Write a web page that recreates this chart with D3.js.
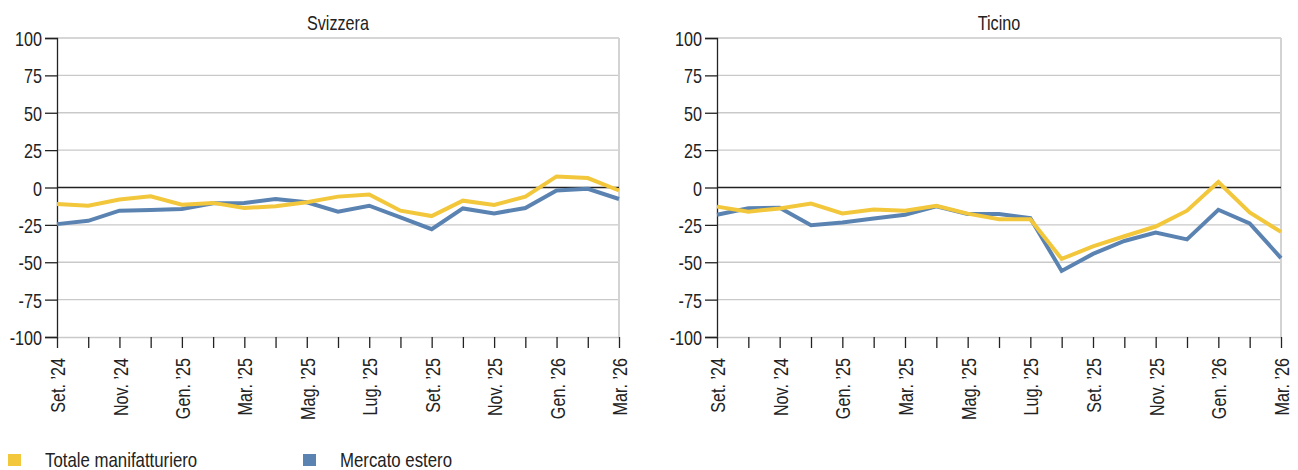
<!DOCTYPE html>
<html><head><meta charset="utf-8">
<script src="https://cdn.jsdelivr.net/npm/d3@7"></script>
<style>
html,body{margin:0;padding:0;background:#fff;}
svg text{font-family:"Liberation Sans",Arial,sans-serif;fill:#222;}
</style></head>
<body><svg id="c" width="1298" height="470"></svg>
<script>
const months = ["Set. ’24","Ott. ’24","Nov. ’24","Dic. ’24","Gen. ’25","Feb. ’25","Mar. ’25","Apr. ’25","Mag. ’25","Giu. ’25","Lug. ’25","Ago. ’25","Set. ’25","Ott. ’25","Nov. ’25","Dic. ’25","Gen. ’26","Feb. ’26","Mar. ’26"];
const panelTitles = ["Svizzera","Ticino"];
const seriesNames = ["Totale manifatturiero","Mercato estero"];
const seriesColors = ["#f2c73c","#5b83b2"];
const yTicks = [100,75,50,25,0,-25,-50,-75,-100];
// Svizzera
const chTotale = [-11,-12.2,-8,-5.9,-11.5,-10.3,-13.7,-12.6,-9.9,-6.1,-4.7,-15.5,-19.1,-8.8,-11.7,-6.1,7.4,6.3,-2];
const chEstero = [-24.5,-22.3,-15.5,-15,-14.4,-10.6,-10.3,-7.7,-9.9,-16.2,-12.2,-20,-27.9,-14,-17.3,-13.7,-2,-0.9,-7.7];
// Ticino
const tiTotale = [-12.8,-16.2,-14,-10.8,-17.3,-14.7,-15.6,-12.2,-17.5,-21.2,-21.2,-47.8,-39.4,-32.6,-26.1,-15.5,3.6,-16.7,-29.7];
const tiEstero = [-18.2,-13.9,-13.5,-25.3,-23.4,-20.7,-18.2,-12.6,-17.8,-17.8,-20.5,-55.8,-44.4,-35.8,-30.2,-34.7,-14.9,-24,-47.2];

const panels = [
  {title: panelTitles[0], x0: 57, x1: 619, data: [chEstero, chTotale]},
  {title: panelTitles[1], x0: 717, x1: 1281, data: [tiEstero, tiTotale]}
];
const svg = d3.select("#c");
const yTop = 38, yBot = 337;
const y = d3.scaleLinear().domain([-100,100]).range([yBot,yTop]);
const FS = 21;

panels.forEach(p => {
  const x = d3.scalePoint().domain(months).range([p.x0,p.x1]);
  const g = svg.append("g");
  g.selectAll("line.grid").data(yTicks.filter(v=>v!==0 && v!==-100)).join("line")
    .attr("x1",p.x0).attr("x2",p.x1).attr("y1",d=>y(d)).attr("y2",d=>y(d))
    .attr("stroke","#c9c9c9").attr("stroke-width",1.3);
  g.append("line").attr("x1",p.x1).attr("x2",p.x1).attr("y1",yTop).attr("y2",yBot)
    .attr("stroke","#d3d3d3").attr("stroke-width",2);
  const ya = g.append("g").attr("transform",`translate(${p.x0},0)`)
    .call(d3.axisLeft(y).tickValues(yTicks).tickSize(12).tickPadding(3).tickFormat(d=>String(d)));
  ya.select(".domain").attr("stroke","#222").attr("stroke-width",1.3);
  ya.selectAll(".tick line").attr("stroke","#222").attr("stroke-width",1.3);
  ya.selectAll("text").style("font-size",FS+"px").attr("fill","#222").attr("dy","0.36em");
  const xa = g.append("g").attr("transform",`translate(0,${yBot})`)
    .call(d3.axisBottom(x).tickSize(11).tickSizeOuter(0).tickFormat((d,i)=> i%2===0 ? d : ""));
  xa.select(".domain").attr("stroke","#c9c9c9").attr("stroke-width",1.3);
  xa.selectAll(".tick line").attr("stroke","#222").attr("stroke-width",1.3);
  xa.selectAll("text").style("font-size",FS+"px").attr("fill","#222")
    .attr("transform","rotate(-90)").attr("text-anchor","end")
    .attr("x",-21).attr("y",0).attr("dy","0.36em");
  g.append("line").attr("x1",p.x0).attr("x2",p.x1).attr("y1",y(0)).attr("y2",y(0))
    .attr("stroke","#222").attr("stroke-width",1.3);
  g.append("text").attr("x",(p.x0+p.x1)/2).attr("y",30).attr("text-anchor","middle")
    .style("font-size",FS+"px").text(p.title);
  const line = d3.line().x((d,i)=>x(months[i])).y(d=>y(d));
  p.data.forEach((arr,k) => {
    g.append("path").attr("d",line(arr)).attr("fill","none")
      .attr("stroke", seriesColors[1-k]).attr("stroke-width",4).attr("stroke-linejoin","miter");
  });
});

const legX = [8, 303];
seriesNames.forEach((n,i) => {
  svg.append("rect").attr("x",legX[i]).attr("y",454).attr("width",13).attr("height",12).attr("fill",seriesColors[i]);
  svg.append("text").attr("class","leg").attr("x",legX[i]+37).attr("y",467).style("font-size",FS+"px").text(n);
});

// condensed look
svg.selectAll("text").each(function(){
  const L = this.getComputedTextLength();
  const f = this.classList.contains("leg") ? 0.8 : 0.77;
  if (L > 0) { d3.select(this).attr("textLength", L*f).attr("lengthAdjust","spacingAndGlyphs"); }
});
</script></body></html>
